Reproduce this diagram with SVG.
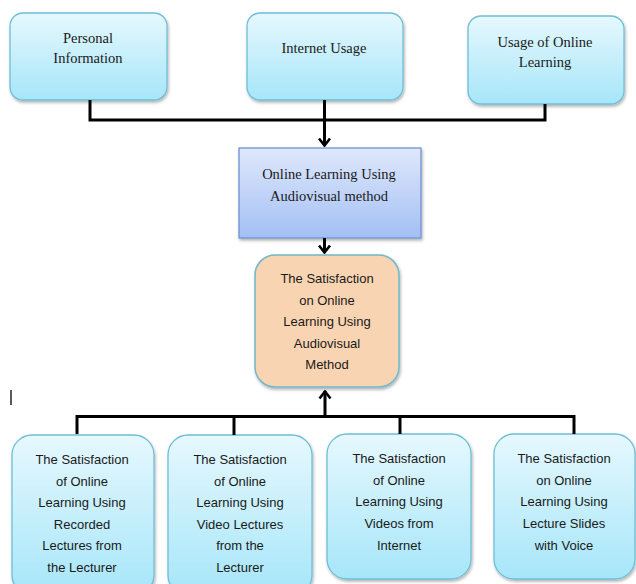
<svg xmlns="http://www.w3.org/2000/svg" width="636" height="584" viewBox="0 0 636 584">
<defs>
<linearGradient id="gCyan" x1="0" y1="0" x2="0" y2="1">
<stop offset="0" stop-color="#e6f8fe"/>
<stop offset="1" stop-color="#a6e6f9"/>
</linearGradient>
<linearGradient id="gBlue" x1="0" y1="0" x2="0" y2="1">
<stop offset="0" stop-color="#dfe8fb"/>
<stop offset="1" stop-color="#a3bff5"/>
</linearGradient>
<filter id="sh" x="-10%" y="-10%" width="125%" height="125%">
<feDropShadow dx="1" dy="2" stdDeviation="1.5" flood-color="#000" flood-opacity="0.3"/>
</filter>
<marker id="arr" viewBox="0 0 10 14" refX="9" refY="7" markerWidth="10" markerHeight="14" markerUnits="userSpaceOnUse" orient="auto">
<path d="M1.5,1.5 L8.5,7 L1.5,12.5" fill="none" stroke="#000" stroke-width="2.6"/>
</marker>
</defs>
<style>
.cy{fill:url(#gCyan);stroke:#6ebfd6;stroke-width:1.3;filter:url(#sh)}
.bl{fill:url(#gBlue);stroke:#6f93d2;stroke-width:1.3;filter:url(#sh)}
.or{fill:#f9d4b2;stroke:#70b8c9;stroke-width:1.5;filter:url(#sh)}
.sf{font-family:"Liberation Serif","Times New Roman",serif;font-size:14.5px;fill:#1a1a1a;text-anchor:middle}
.ss{font-family:"Liberation Sans",Arial,sans-serif;font-size:13px;fill:#1a1a1a;text-anchor:middle}
.cn{fill:none;stroke:#000;stroke-width:3}
</style>
<g id="n-personal">
<rect class="cy" x="10" y="13" width="157" height="87" rx="13"/>
<text class="sf" x="88" y="43">Personal</text>
<text class="sf" x="88" y="63">Information</text>
</g>
<g id="n-internet">
<rect class="cy" x="247" y="13" width="156" height="87" rx="13"/>
<text class="sf" x="324" y="53">Internet Usage</text>
</g>
<g id="n-usage">
<rect class="cy" x="468" y="16" width="156" height="88" rx="13"/>
<text class="sf" x="545" y="47">Usage of Online</text>
<text class="sf" x="545" y="67">Learning</text>
</g>
<g id="n-audiovisual">
<rect class="bl" x="239" y="148" width="182" height="90"/>
<text class="sf" x="329" y="179">Online  Learning Using</text>
<text class="sf" x="329" y="201">Audiovisual method</text>
</g>
<g id="n-satisfaction">
<rect class="or" x="255" y="255" width="144" height="132" rx="20"/>
<text class="ss" x="327" y="283">The Satisfaction</text>
<text class="ss" x="327" y="304.5">on Online</text>
<text class="ss" x="327" y="326">Learning Using</text>
<text class="ss" x="327" y="347.5">Audiovisual</text>
<text class="ss" x="327" y="369">Method</text>
</g>
<g id="n-recorded">
<rect class="cy" x="12" y="435" width="142" height="160" rx="20"/>
<text class="ss" x="82" y="464">The Satisfaction</text>
<text class="ss" x="82" y="485.5">of Online</text>
<text class="ss" x="82" y="507">Learning Using</text>
<text class="ss" x="82" y="528.5">Recorded</text>
<text class="ss" x="82" y="550">Lectures from</text>
<text class="ss" x="82" y="572">the Lecturer</text>
</g>
<g id="n-video">
<rect class="cy" x="168" y="435" width="144" height="160" rx="20"/>
<text class="ss" x="240" y="464">The Satisfaction</text>
<text class="ss" x="240" y="485.5">of Online</text>
<text class="ss" x="240" y="507">Learning Using</text>
<text class="ss" x="240" y="528.5">Video Lectures</text>
<text class="ss" x="240" y="550">from the</text>
<text class="ss" x="240" y="572">Lecturer</text>
</g>
<g id="n-internetvideos">
<rect class="cy" x="327" y="434" width="144" height="145" rx="20"/>
<text class="ss" x="399" y="463">The Satisfaction</text>
<text class="ss" x="399" y="484.5">of Online</text>
<text class="ss" x="399" y="506">Learning Using</text>
<text class="ss" x="399" y="527.5">Videos from</text>
<text class="ss" x="399" y="549.5">Internet</text>
</g>
<g id="n-slides">
<rect class="cy" x="494" y="434" width="141" height="145" rx="20"/>
<text class="ss" x="564" y="463">The Satisfaction</text>
<text class="ss" x="564" y="484.5">on Online</text>
<text class="ss" x="564" y="506">Learning Using</text>
<text class="ss" x="564" y="527.5">Lecture Slides</text>
<text class="ss" x="564" y="549.5">with Voice</text>
</g>
<g id="connectors">
<polyline class="cn" points="90,100 90,120 545,120 545,104"/>
<line class="cn" x1="324.5" y1="100" x2="324.5" y2="146" marker-end="url(#arr)"/>
<line class="cn" x1="324.5" y1="238" x2="324.5" y2="253" marker-end="url(#arr)"/>
<line class="cn" x1="325" y1="416" x2="325" y2="391" marker-end="url(#arr)"/>
<polyline class="cn" points="77,434 77,416.5 574,416.5 574,434"/>
<line class="cn" x1="234" y1="416" x2="234" y2="435"/>
<line class="cn" x1="400" y1="416" x2="400" y2="434"/>
</g>
<line x1="11" y1="390" x2="11" y2="405" stroke="#000" stroke-width="1.3"/>
</svg>
